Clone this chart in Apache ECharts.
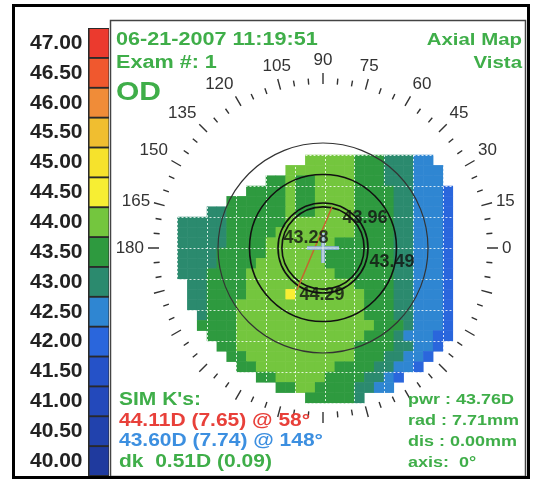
<!DOCTYPE html>
<html>
<head>
<meta charset="utf-8">
<script src="https://cdn.jsdelivr.net/npm/echarts@6/dist/echarts.min.js"></script>
<style>
  html, body { margin: 0; padding: 0; background: #fff; }
  #chart { width: 537px; height: 486px; }
</style>
</head>
<body>
<div id="chart"></div>
<script>
// colour scale, diopters (bottom to top)
const scaleLevels = [40.00, 40.50, 41.00, 41.50, 42.00, 42.50, 43.00, 43.50, 44.00, 44.50, 45.00, 45.50, 46.00, 46.50, 47.00];
const scaleColors = ['#1f3a9e', '#2142ad', '#2349bb', '#2552c8', '#2a66dc', '#2f86d2', '#2b8a6e', '#2e9a3f',
                     '#74c63e', '#f7ee33', '#f6e22c', '#f0be30', '#f08c38', '#f0582e', '#eb3a2e'];

// axial map, one row per line (top to bottom), written as runs "<level><count>"
// level k is scaleLevels[k], '.' is no data
const mapRuns = [
  '.13 85 73 63 52 .3',
  '.11 87 73 63 53 .2',
  '.9 72 81 72 84 73 63 53 .2',
  '.7 74 81 72 84 74 62 53 41 .1',
  '.5 76 81 72 84 74 62 53 41 .1',
  '.3 62 76 81 72 84 74 62 53 41 .1',
  '65 76 87 74 62 53 41 .1',
  '65 75 88 74 62 53 41 .1',
  '65 74 87 76 62 53 41 .1',
  '64 75 86 77 62 53 41 .1',
  '64 74 87 77 62 53 41 .1',
  '63 74 89 76 62 53 41 .1',
  '.1 62 74 811 74 62 53 41 .1',
  '.1 62 74 84 91 87 73 62 53 41 .1',
  '.1 62 73 813 73 62 53 41 .1',
  '.2 61 73 813 73 62 53 41 .1',
  '.2 74 814 73 61 53 41 .1',
  '.3 73 813 73 61 53 42 .1',
  '.4 72 812 74 62 52 41 .2',
  '.5 72 811 73 62 52 41 .3',
  '.6 72 88 74 62 52 41 .4',
  '.8 72 85 74 62 51 41 .6',
  '.10 72 82 74 62 52 .7',
  '.13 75 61 .10'
];

// zone rings, mm
const zoneRings = [1.37, 1.5, 2.45, 3.5];
// meridians that carry a label
const angleLabels = [0, 15, 30, 45, 60, 75, 90, 105, 120, 135, 150, 165, 180];

// simulated K points on the map: value, meridian (deg), distance from centre (mm)
const kValues = [43.96, 43.28, 43.49, 44.29];
const kAngles = [35.5, 149.5, 348.5, 268.8];
const kRadii = [1.72, 0.66, 2.35, 1.57];
// steep meridian line: [mm, deg]
const steepLine = [[1.40, 77.6], [1.65, 238.2]];

// text blocks
const headerLeft = ['06-21-2007 11:19:51', 'Exam #: 1'];
const headerRight = ['Axial Map', 'Vista'];
const eyeLabel = 'OD';
const simKLines = ["SIM K's:", '44.11D (7.65) @ 58°', '43.60D (7.74) @ 148°', 'dk  0.51D (0.09)'];
const simKColors = ['#3fae49', '#e8403a', '#3c8fe0', '#3fae49'];
const infoLines = ['pwr : 43.76D', 'rad : 7.71mm', 'dis : 0.00mm', 'axis:  0°'];

const GREEN = '#3fae49';
const PX_PER_MM = 30;
const CX = 323, CY = 248;
const TICK_R = 164;
const CELL_W = 29.5 / 3, CELL_H = 31 / 3;
const NCOLS = 29, NROWS = mapRuns.length;

// unpack the runs into heatmap cells
const heatData = [];
mapRuns.forEach((line, r) => {
  let c = 0;
  line.split(' ').forEach(tok => {
    const ch = tok[0], n = +tok.slice(1);
    for (let k = 0; k < n; k++, c++) {
      if (ch !== '.') heatData.push([c, r, scaleLevels[+ch]]);
    }
  });
  if (c !== NCOLS) console.warn('row', r, 'has', c, 'cells');
});

const colCats = Array.from({ length: NCOLS }, (_, i) => String(i));
const rowCats = Array.from({ length: NROWS }, (_, i) => String(i));

// polar systems: 0 = meridian tick ring, the rest draw the zone rings
const polars = [{ center: [CX, CY], radius: TICK_R }];
const angleAxes = [{
  polarIndex: 0, type: 'value', min: 0, max: 360, interval: 15,
  startAngle: 0, clockwise: false, z: 4,
  axisLine: { show: false },
  splitLine: { show: false },
  axisTick: { show: true, length: 11, lineStyle: { color: '#333', width: 1.4 } },
  minorTick: { show: true, splitNumber: 3, length: 6, lineStyle: { color: '#333', width: 1.4 } },
  axisLabel: {
    margin: 15, color: '#333', fontSize: 17, fontFamily: 'Liberation Sans',
    formatter: v => angleLabels.includes(v) ? String(v) : ''
  }
}];
const radiusAxes = [{ polarIndex: 0, type: 'value', min: 0, max: TICK_R / PX_PER_MM, show: false }];

zoneRings.forEach((mm, i) => {
  polars.push({ center: [CX, CY], radius: mm * PX_PER_MM });
  angleAxes.push({
    polarIndex: i + 1, type: 'value', min: 0, max: 360, startAngle: 0, clockwise: false, z: 4,
    axisLine: { show: true, lineStyle: { color: i === 3 ? '#333' : '#111', width: i === 3 ? 1.2 : 1.6 } },
    axisTick: { show: false }, axisLabel: { show: false }, splitLine: { show: false }
  });
  radiusAxes.push({ polarIndex: i + 1, type: 'value', min: 0, max: mm, show: false });
});

function textEl(text, x, y, size, color, align) {
  return {
    type: 'text', x: x, y: y, scaleX: 1.2, z: 10,
    style: {
      text: text, font: 'bold ' + size + 'px "Liberation Sans", Arial, sans-serif',
      fill: color, align: align || 'left', verticalAlign: 'middle',
      textAlign: align || 'left', textVerticalAlign: 'middle'
    }
  };
}

const graphics = [
  // legend backdrop gives the dark lines between the colour boxes
  { type: 'rect', z: 0, shape: { x: 88, y: 28, width: 21, height: 448 }, style: { fill: '#2a2a2a' } },
  { type: 'rect', z: 0, shape: { x: 110.5, y: 20.5, width: 415, height: 456 }, style: { fill: 'none', stroke: '#444', lineWidth: 1.5 } },
  { type: 'rect', z: 10, shape: { x: 13.5, y: 5.5, width: 515, height: 472 }, style: { fill: 'none', stroke: '#000', lineWidth: 3 } }
];
headerLeft.forEach((t, i) => graphics.push(textEl(t, 116, 40 + i * 23, 18, GREEN)));
headerRight.forEach((t, i) => graphics.push(textEl(t, 522, 40 + i * 23, 17, GREEN, 'right')));
graphics.push(textEl(eyeLabel, 116, 93, 25, GREEN));
simKLines.forEach((t, i) => graphics.push(textEl(t, 119, 400 + i * 20.7, 17.5, simKColors[i])));
infoLines.forEach((t, i) => graphics.push(textEl(t, 408, 400 + i * 21, 15, GREEN)));

const option = {
  animation: false,
  backgroundColor: '#fff',
  grid: { left: 177.5, top: 155, width: NCOLS * CELL_W, height: NROWS * CELL_H },
  xAxis: {
    type: 'category', data: colCats, z: 3,
    axisLine: { show: false }, axisTick: { show: false }, axisLabel: { show: false },
    splitLine: { show: true, interval: 2, lineStyle: { color: 'rgba(255,255,255,0.8)', type: [2, 2], width: 1 } }
  },
  yAxis: {
    type: 'category', data: rowCats, inverse: true, z: 3,
    axisLine: { show: false }, axisTick: { show: false }, axisLabel: { show: false },
    splitLine: { show: true, interval: 2, lineStyle: { color: 'rgba(255,255,255,0.8)', type: [2, 2], width: 1 } }
  },
  polar: polars,
  angleAxis: angleAxes,
  radiusAxis: radiusAxes,
  visualMap: {
    type: 'piecewise', seriesIndex: 0, orient: 'vertical', left: 30, top: 29, padding: 0,
    itemWidth: 19, itemHeight: 28, itemGap: 1.86, textGap: 7, align: 'right',
    selectedMode: false, hoverLink: false, itemSymbol: 'rect',
    textStyle: { fontSize: 21, fontWeight: 'bold', color: '#222', fontFamily: 'Liberation Sans' },
    pieces: scaleLevels.map((v, i) => ({ value: v, label: v.toFixed(2), color: scaleColors[i] }))
  },
  graphic: graphics,
  series: [
    {
      type: 'heatmap', data: heatData, silent: true,
      itemStyle: { borderWidth: 0 }
    },
    {
      type: 'line', coordinateSystem: 'polar', polarIndex: 0, data: steepLine,
      symbol: 'none', z: 5, silent: true,
      lineStyle: { color: '#c4662e', width: 1.5 }
    },
    {
      type: 'scatter', coordinateSystem: 'polar', polarIndex: 0, data: [[0, 0]], z: 6, silent: true,
      symbol: 'path://M0,13L32,13L32,17L0,17Z M14,0L18,0L18,30L14,30Z', symbolSize: [32, 30],
      itemStyle: { color: '#8aa6e4' }
    },
    {
      type: 'scatter', coordinateSystem: 'polar', polarIndex: 0, data: [[0, 0]], z: 7, silent: true,
      symbol: 'path://M0,14.5L32,14.5L32,15.5L0,15.5Z M15.5,0L16.5,0L16.5,30L15.5,30Z', symbolSize: [32, 30],
      itemStyle: { color: '#ffffff' }
    },
    {
      type: 'scatter', coordinateSystem: 'polar', polarIndex: 0, z: 8, silent: true,
      data: kValues.map((v, i) => [kRadii[i], kAngles[i], v]),
      symbolSize: 1, itemStyle: { color: 'rgba(0,0,0,0)' },
      label: {
        show: true, position: 'inside', color: '#111',
        fontSize: 18, fontWeight: 'bold', fontFamily: '"Liberation Sans Narrow", "Liberation Sans", sans-serif',
        formatter: p => p.value[2].toFixed(2)
      }
    }
  ]
};

const chart = echarts.init(document.getElementById('chart'));
chart.setOption(option);
</script>
</body>
</html>
